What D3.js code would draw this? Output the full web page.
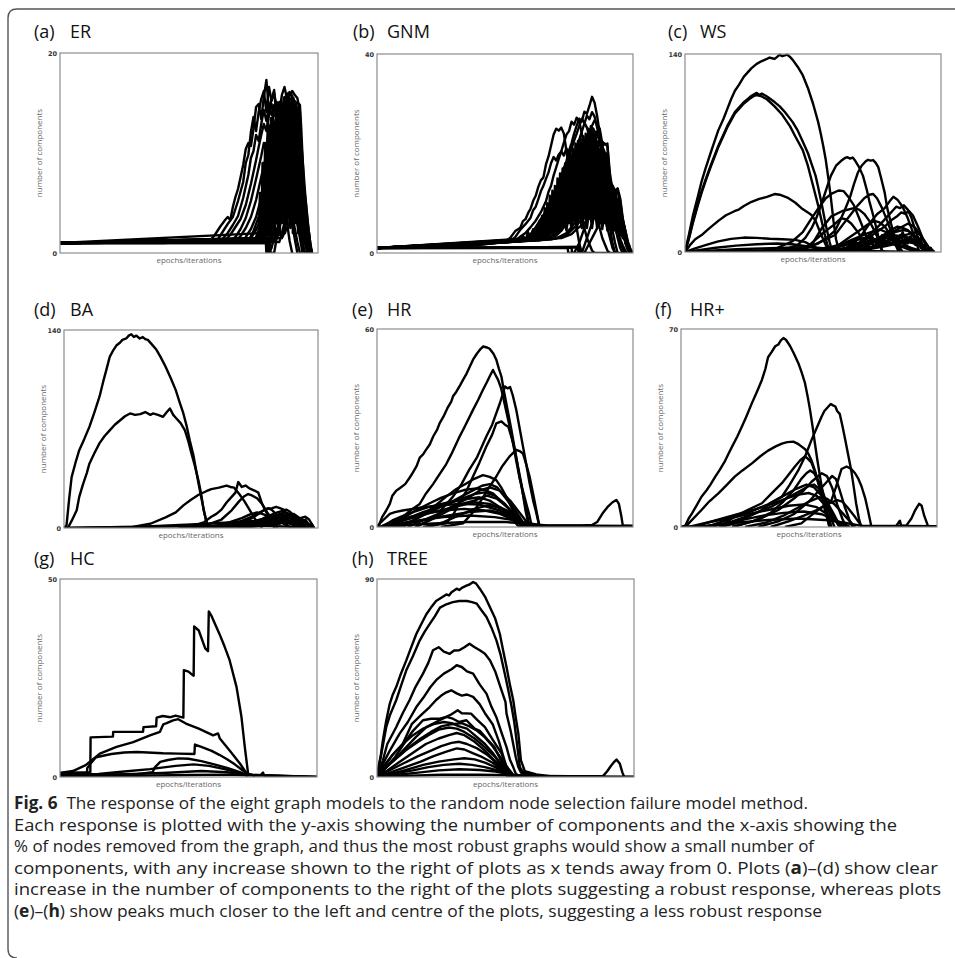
<!DOCTYPE html>
<html>
<head>
<meta charset="utf-8">
<script src="https://cdn.jsdelivr.net/npm/d3@7"></script>
<style>
  body { margin: 0; background: #fff; }
  svg { display: block; }
  .title { font-family: "Open Sans", sans-serif; font-size: 18px; fill: #111; }
  .axis-label { font-family: "Open Sans", sans-serif; font-size: 8px; fill: #666; }
  .tick text { font-family: "DejaVu Sans", sans-serif; font-size: 6.5px; font-weight: bold; fill: #333; }
  .caption { font-family: "Open Sans", sans-serif; font-size: 17px; fill: #222; }
</style>
</head>
<body>
<div id="chart"></div>
<script>
// panel labels and y-axis maxima
const panelLetters = ["(a)", "(b)", "(c)", "(d)", "(e)", "(f)", "(g)", "(h)"];
const panelNames = ["ER", "GNM", "WS", "BA", "HR", "HR+", "HC", "TREE"];
const yMaxValues = [20, 40, 140, 140, 60, 70, 50, 90];

// each curve: [% of x-range, number of components]
const erCurves = [
  [[0,1],[40,1],[58,1.2],[60,1.8],[62,2.6],[64,3.3],[65,3.6],[66,3.3],[67,4.6],[68,5.6],[69,6.4],[70,7.6],[71,8.8],[72,10.4],[73,11],[74,10.7],[75,12.4],[76,14.6],[77,14.9],[78,13.4],[79,15.6],[80,17.3],[81,14.2],[82,15.4],[83,16.3],[84,13.2],[85,11],[86,8.4],[87,5.5],[88,3],[89,1.2],[90,0]],
  [[0,1],[49,1.3],[61,1.3],[63,2.1],[65,2.9],[67,3.6],[69,5.2],[71,7.1],[72,9],[73,9.8],[74,12.1],[75,13.6],[76,12.2],[77,14.1],[78,15.4],[79,16.2],[80,14.1],[81,16.6],[82,15.2],[83,16],[84,14.5],[85,12.5],[87,8.4],[89,4.6],[91,1.4],[92,0]],
  [[0,1],[49,1.3],[63,1.4],[65,2],[67,2.8],[69,3.7],[71,5.5],[73,7.8],[74,9.5],[75,10.2],[76,11.8],[77,11.2],[78,12.9],[79,14.3],[80,13.2],[81,14.6],[82,13.8],[83,14.8],[84,13.4],[85,14.2],[86,11.6],[88,7.5],[90,3.8],[92,1.1],[93,0]],
  [[0,1],[40,1.2],[64,1.3],[66,1.8],[68,2.6],[70,3.4],[72,4.8],[74,6.9],[76,9.3],[77,10.6],[78,11.8],[79,12.9],[80,12.2],[81,13.8],[82,14.9],[83,13.7],[84,15.1],[85,14.4],[86,13],[87,13.8],[88,10.5],[90,6.6],[92,3],[94,0.6],[95,0]],
  [[0,1],[66,1.2],[68,1.6],[70,2.4],[72,3.5],[74,5.2],[76,7.4],[78,9.7],[79,11],[80,10.6],[81,12.4],[82,13.1],[83,12.6],[84,13.9],[85,15.1],[86,14.3],[87,15.6],[88,14.8],[89,12.6],[90,9.9],[91,7.2],[93,3.6],[95,0.9],[96,0]],
  [[0,1],[68,1.2],[70,1.7],[72,2.5],[74,3.6],[76,5.3],[78,7.6],[80,9.8],[81,11.2],[82,12.5],[83,11.7],[84,13.1],[85,14],[86,15.8],[87,16.6],[88,15.4],[89,16.1],[90,15.7],[91,12.8],[92,9.4],[93,6.1],[94,4.2],[95,2.4],[96.5,0.8],[97.5,0]],
  [[0,1],[70,1.1],[72,1.6],[74,2.4],[76,3.6],[78,5.5],[80,7.8],[82,10.1],[83,11.4],[84,12.3],[85,11.6],[86,13.4],[87,14.6],[88,15.9],[89,15.2],[90,15.6],[91,15.1],[92,14.2],[93,8.5],[94,5.1],[95,3.1],[96,1.8],[97,0.5],[97.5,0]],
  [[0,1],[72,1.1],[74,1.5],[76,2.3],[78,3.5],[80,5.1],[82,7.2],[84,9.6],[85,10.8],[86,11.9],[87,13],[88,12.2],[89,14.5],[90,13.9],[91,15.2],[92,14.4],[93,12],[94,6.5],[95,3.6],[96,1.6],[97,0.4],[97.6,0]],
  [[0,1],[74,1.1],[76,1.6],[78,2.5],[80,3.9],[82,5.6],[84,7.8],[86,9.5],[87,10.9],[88,11.6],[89,12.8],[90,12.1],[91,13.3],[92,12.6],[93,10.5],[94,7.1],[95,4],[96,2.2],[97,0.6],[97.6,0]],
  [[0,1],[75,1.1],[77,1.7],[79,2.8],[81,4.4],[83,6.3],[85,8.2],[87,9.4],[89,10.2],[90,11.5],[91,10.6],[92,11.2],[93,9.2],[94,6.2],[95,3.7],[96,1.8],[97,0.5],[97.7,0]],
  [[0,1],[77,1.1],[79,1.9],[81,3.1],[83,4.7],[85,6.6],[87,7.7],[89,8.6],[91,9.1],[92,8.4],[93,7.2],[94,5],[95,3.2],[96,1.5],[97.4,0]],
  [[0,1],[79.8,1],[80,0],[81,0],[82,3],[83,6],[84,8.5],[85,10.2],[86,12.5],[87,11],[88,12.8],[89,13.5],[90,14.2],[91,13.4],[92,14],[93,13.1],[94,8],[95,4.4],[96,2],[97,0.5],[97.5,0]],
  [[0,1],[78,1.2],[80,2.2],[82,4.2],[84,6.9],[85,8.9],[86,10.4],[87,12.1],[88,13.6],[89,14.1],[90,15.3],[91,14.6],[92,15.1],[93,14.8],[93.5,12.5],[94.5,6.8],[95.5,4.5],[96.5,2],[97.5,0]],
  [[0,1],[79,1.2],[81,2.6],[83,5],[84,7.5],[85,9.4],[86,8.8],[87,10.3],[88,9.6],[89,11],[90,9.8],[91,10.8],[92,9.5],[93,8],[94,5.5],[95,3],[96,1.2],[97,0]],
  [[0,1],[81,1.3],[83,2.5],[85,4],[87,5.6],[89,6.8],[91,7.5],[92,6.6],[93,5.8],[94,4.2],[95,2.6],[96,1.2],[97,0]],
  [[0,1],[76,1.5],[78,3],[79,5],[80,7.5],[81,9.2],[82,10],[83,9],[84,10.8],[85,12.2],[86,11.3],[87,12.6],[88,11.5],[89,10],[90,8.2],[91,5.5],[92,3],[93,1.5],[94,0]],
  [[0,1],[77,1.2],[78,2],[79,3.5],[80,5.5],[81,7],[82,8.5],[83,10.5],[84,12],[85,13.5],[86,14.8],[87,14.2],[88,15.3],[89,14.7],[90,14],[91,12.4],[92,10],[93,7],[94,3.6],[95,1.5],[96,0]],
  [[0,1],[78,1.3],[80,3],[81,4.6],[82,6.4],[83,8.2],[84,9.9],[85,11.6],[86,13],[87,14.1],[88,14.9],[89,15.7],[90,16.2],[91,15.8],[92,15.5],[93,14],[93.6,9],[94.5,5],[95.5,2.6],[96.8,0.5],[97.5,0]],
  [[0,1],[80,1.2],[81,2.2],[82,3.8],[83,5.6],[84,7.4],[85,9],[86,10.5],[87,11.9],[88,12.8],[89,13.9],[90,14.6],[91,14.1],[92,13.6],[93,12.5],[94,9.5],[95,6],[96,3],[97,1],[97.7,0]],
  [[0,1],[82,1.2],[83,2.4],[84,3.9],[85,5.4],[86,6.8],[87,8.3],[88,9.6],[89,10.4],[90,11.2],[91,12],[92,11.5],[93,10.8],[94,8.2],[95,5.1],[96,2.5],[97,0.8],[97.6,0]],
  [[0,1],[83,1.2],[84,2.1],[85,3.3],[86,4.6],[87,5.8],[88,7],[89,8.2],[90,9],[91,9.6],[92,9.3],[93,8.5],[94,6.5],[95,4.3],[96,2.2],[97,0.6],[97.5,0]],
  [[0,1],[85,1.1],[86,2],[87,3],[88,4.1],[89,5],[90,5.8],[91,6.4],[92,6.6],[93,6.2],[94,5],[95,3.5],[96,1.8],[97,0.4],[97.5,0]],
  [[0,1],[80.5,1],[80.7,0],[82,0.5],[83,1.5],[85,3],[87,4.5],[89,5.5],[91,5],[93,4],[95,2.5],[96.5,0.8],[97.5,0]],
  [[0,1],[81.5,1.2],[81.6,0],[83,0],[84,1.5],[86,3.5],[88,6],[90,8],[91,9],[92,8.6],[93,7.5],[94,5.5],[95.5,2.5],[97,0]],
  [[0,1],[84,1.5],[85,2],[86,1.5],[88,2.5],[90,3.5],[92,3.2],[94,2.5],[96,1.2],[97,0]],
  [[0,1],[73,1.2],[75,2.2],[77,3.6],[79,5.5],[80,7],[81,8.5],[82,10],[83,11.5],[84,12.5],[85,13.8],[86,14.5],[87,15],[88,14.3],[89,13],[90,11],[91,8.5],[92,5.5],[93,3],[94,1],[95,0]],
  [[0,1],[86,1.5],[87.5,3],[89,4.5],[90,6.5],[91,8],[92,9.5],[93,9],[93.8,7],[94.5,4.5],[95.5,2.2],[96.5,0.6],[97,0]],
  [[0,1],[77,1.2],[77.5,6],[78,2],[78.5,9],[79,3],[79.5,11],[80,4],[80.5,13],[81,3],[81.5,12],[82,5],[82.5,14],[83,4],[83.5,13],[84,6],[84.5,14.5],[85,5],[85.5,15],[86,4],[86.5,14],[87,6],[87.5,15.5],[88,5],[88.5,16],[89,7],[89.5,15],[90,4],[90.5,15.5],[91,6],[91.5,14.5],[92,5],[92.5,14],[93,3],[93.5,10],[94,2],[94.5,5],[95,1],[95.5,3.5],[96,0.5],[96.5,2],[97,0]],
  [[0,1],[78.25,1.5],[78.75,8],[79.25,1.5],[79.75,10],[80.25,2],[80.75,12],[81.25,1.5],[81.75,13.5],[82.25,2.5],[82.75,12.5],[83.25,2],[83.75,14],[84.25,3],[84.75,13],[85.25,2],[85.75,14.5],[86.25,3],[86.75,15.5],[87.25,2],[87.75,14],[88.25,3],[88.75,15.5],[89.25,2.5],[89.75,14.5],[90.25,2],[90.75,15],[91.25,3],[91.75,14],[92.25,2],[92.75,13],[93.25,1.5],[93.75,8],[94.25,1],[94.75,4.5],[95.25,0.5],[95.75,2.5],[96.5,0]],
  [[0,1],[79,2],[79.5,7],[80,5],[80.5,9],[81,6],[81.5,10],[82,7],[82.5,11],[83,8],[83.5,12],[84,8],[84.5,11],[85,9],[85.5,13],[86,8],[86.5,12],[87,9],[87.5,13],[88,8],[88.5,12],[89,9],[89.5,13],[90,8],[90.5,12],[91,9],[91.5,12.5],[92,8],[92.5,11],[93,6],[93.5,7],[94,3],[95,1.5],[96,0]]
];

const gnmCurves = [
  [[0,1],[22,1.2],[39,1.6],[46,2],[50,2.3],[52,3],[54,4.4],[56,5.1],[57,6.4],[58,6.8],[59,8],[60,8.9],[61,10.5],[62,11.5],[63,13.3],[64,14.6],[65,15.2],[66,17.8],[67,19.4],[68,21.6],[69,23.8],[70,25],[71,24.6],[72,25.2],[73,24],[74,20.5],[75,17],[76,13],[77,9],[78,5],[79,2],[80,0]],
  [[0,1],[39,1.6],[48,2.1],[52,2.4],[54,3.2],[56,4.7],[58,5.8],[60,7.1],[61,8.6],[62,9.3],[63,10.8],[64,12.4],[65,13.5],[66,14.9],[67,16.2],[68,18.1],[69,19.3],[70,18.6],[71,19.8],[72,20.4],[73,19.6],[74,21],[75,20],[76,17],[78,12],[80,7],[82,3],[84,0.5],[85,0]],
  [[0,1],[46,2],[54,2.5],[56,3.3],[58,4],[60,5.2],[62,6.5],[64,8.2],[66,10.4],[67,12.3],[68,13.5],[69,15.6],[70,17.2],[71,18.9],[72,20.5],[73,22.2],[74,23.8],[75,24.5],[76,26.4],[77,25.8],[78,27.2],[79,26.5],[80,24],[82,18],[84,12],[86,7],[88,3],[90,0.5],[91,0]],
  [[0,1],[50,2.1],[58,2.6],[60,3.5],[62,4.6],[64,5.8],[66,7.4],[68,9.6],[70,12.1],[71,13.6],[72,15.2],[73,17.1],[74,18.4],[75,20.6],[76,22.1],[77,24],[78,25.6],[79,27],[80,26.4],[81,28.4],[82,28],[83,29.6],[84,31.4],[85,30.2],[86,27.5],[87,24],[88,19],[89,14],[90,9],[91,5],[92,2],[93,0]],
  [[0,1],[52,2.2],[60,2.8],[62,3.6],[64,4.5],[66,5.8],[68,7.3],[70,9.2],[72,11.6],[73,13.1],[74,14.4],[75,16.2],[76,17.8],[77,19.5],[78,21.3],[79,22.8],[80,24.4],[81,26],[82,27.6],[83,26.9],[84,28.3],[85,27.4],[86,25.2],[87,22.5],[88,20.8],[89,16],[90,12],[91,8],[92,4.5],[93,2],[94,0]],
  [[0,1],[54,2.3],[62,3],[64,3.8],[66,4.9],[68,6.3],[70,8],[72,10],[74,12.5],[75,13.6],[76,15.2],[77,16.6],[78,18.2],[79,19.6],[80,21],[81,22.4],[82,23.5],[83,24.6],[84,25.2],[85,24.5],[86,23.8],[87,22.4],[88,21.6],[89,22],[90,21.5],[91,16],[92,12.5],[93,8],[94,4.5],[95,2.5],[96,1],[97,0]],
  [[0,1],[56,2.4],[64,3.1],[66,3.9],[68,5],[70,6.4],[72,8.2],[74,10.1],[76,12.6],[78,15.2],[80,17.6],[81,18.9],[82,20.2],[83,21],[84,22],[85,21.4],[86,22.2],[87,21.6],[88,22.4],[89,21.8],[90,22],[91,14],[92,13.6],[93,12.5],[94,13],[95,11],[96,7],[97,4],[98,1.5],[99,0.3],[100,0]],
  [[0,1],[58,2.4],[66,3.2],[68,4],[70,5.2],[72,6.6],[74,8.4],[76,10.4],[78,12.6],[80,14.8],[82,16.6],[84,18.4],[85,19.2],[86,18.5],[87,19.6],[88,18.8],[89,17.5],[90,15.8],[91,13.6],[92,12.8],[93,12],[94,12.4],[95,10.5],[96,6.5],[97,4.5],[98,2],[99,0.5],[100,0]],
  [[0,1],[60,2.5],[68,3.4],[70,4.3],[72,5.5],[74,7],[76,8.7],[78,10.4],[80,12.2],[82,13.8],[84,15.1],[86,16],[87,15.4],[88,16.2],[89,15],[90,13.4],[91,12.1],[92,10.6],[93,9.6],[94,7.5],[95,5.5],[96,4.5],[97,3],[98,1.5],[99,0]],
  [[0,1],[64,2.6],[70,3.5],[72,4.5],[74,5.8],[76,7.2],[78,8.6],[80,10],[82,11.4],[84,12.4],[86,13.2],[88,13.6],[89,13],[90,12],[91,10.6],[92,9],[93,7.2],[94,5.4],[95,4.8],[96,4],[97,2.4],[98,1],[99,0]],
  [[0,1],[68,2.7],[74,3.6],[76,4.6],[78,5.6],[80,6.8],[82,8],[84,9.2],[86,10],[88,10.6],[90,10.2],[92,8.6],[94,6],[96,3.5],[98,1],[99,0]],
  [[0,1],[74.5,1],[74.7,0],[100,0]],
  [[0,1],[76,1.1],[76.2,0],[77,0],[79,2],[81,5],[83,8],[85,11],[87,13],[89,12],[91,9],[93,5],[95,2],[97,0]],
  [[0,1],[78.5,1.2],[78.7,0],[80,0],[82,3],[84,6],[86,9],[88,11],[90,10.5],[92,7.5],[94,4],[96,1.5],[97.5,0]],
  [[0,1],[56,2.5],[60,3.2],[62,4],[64,5],[66,6.2],[68,7.5],[70,9],[72,10.8],[74,12.5],[76,14.2],[78,16],[80,17.5],[82,19],[84,20.2],[86,21],[87,20.5],[88,21.3],[89,20.2],[90,18.5],[91,14.5],[92,12],[93,10.5],[94,9],[95,7.5],[96,5.5],[97,3.5],[98,1.5],[99,0]],
  [[0,1],[62,2.7],[66,3.5],[68,4.6],[70,6],[72,7.5],[74,9.3],[76,11.2],[78,13],[80,14.6],[82,16],[83,17.3],[84,18.1],[85,18.8],[86,18.2],[87,17.5],[88,16.5],[89,15.2],[90,13.6],[91,12.3],[92,11],[93,10],[94,8.2],[95,6.5],[96,5],[97,3],[98,1.2],[99,0]],
  [[0,1],[66,2.8],[70,3.8],[72,5],[74,6.4],[76,8],[78,9.6],[80,11.4],[82,12.8],[84,14.2],[86,15.4],[88,15.8],[90,15.1],[91,13.7],[92,12.2],[93,11],[94,10.8],[95,9],[96,6],[97,3.5],[98,1.5],[99,0]],
  [[0,1],[70,2.9],[74,4],[76,5.2],[78,6.6],[80,8],[82,9.4],[84,10.5],[86,11.5],[88,12.2],[90,12.6],[92,11.5],[94,9],[95,7],[96,5],[97,3],[98,1.2],[99,0]],
  [[0,1],[72,3],[76,3.8],[78,4.8],[80,5.6],[82,6.5],[84,7.4],[86,8.2],[88,8.6],[90,8.9],[92,8.4],[94,6.8],[96,4.5],[97.5,2.4],[99,0.5],[99.5,0]],
  [[0,1],[57,2.5],[60,3.8],[62,5.2],[64,6.8],[66,8.4],[68,10.5],[70,12.4],[71,13.8],[72,15],[73,16.7],[74,17.9],[75,19.2],[76,21],[77,22.6],[78,24],[79,25.5],[80,27],[81,26.2],[82,25.2],[83,23.4],[84,21],[85,18.4],[86,15.6],[87,13],[88,10.2],[89,7.4],[90,5],[91,3],[92,1],[93,0]],
  [[0,1],[60,3],[62,3.9],[64,5],[66,6.2],[68,7.7],[70,9.5],[72,11.7],[74,13.9],[76,16],[78,18.3],[80,20.3],[81,21.6],[82,23.2],[83,24.4],[84,25.6],[85,26.7],[86,25.8],[87,25],[88,22],[89,18],[90,14.5],[91,11],[92,8],[93,5.5],[94,3],[95,1],[96,0]],
  [[0,1],[79,1.2],[79.2,0],[81,0],[83,2],[85,4],[87,6],[89,8],[91,9],[93,8],[95,6],[97,3],[99,0]],
  [[0,1],[64,2.6],[66,3.2],[68,4.2],[70,5.5],[72,7],[74,8.5],[76,10],[78,11.5],[80,12.6],[82,13.4],[84,14],[86,14.5],[88,14.2],[90,13],[92,11.5],[94,10],[95,8.5],[96,6.8],[97,4.5],[98,2.3],[99,0.8],[100,0]],
  [[0,1],[58,2.8],[61,3.5],[63,4.6],[65,5.7],[67,7],[69,8.6],[71,10.4],[73,12.2],[75,14.3],[77,16.3],[79,18.4],[81,20.4],[83,22.4],[84,22.9],[85,23.8],[86,24.4],[87,23.1],[88,21.5],[89,19.6],[90,17],[91,15],[92,13],[93,11.5],[94,10],[95,8.2],[96,6],[97,3.6],[98,1.6],[99,0.4],[100,0]],
  [[0,1],[62,2.5],[62.5,5],[63,2.5],[63.5,6.5],[64,3],[64.5,7.5],[65,3],[65.5,9],[66,3.5],[66.5,10],[67,3.5],[67.5,11.5],[68,4],[68.5,12.5],[69,4],[69.5,13.5],[70,4.5],[70.5,15],[71,5],[71.5,16],[72,5],[72.5,17],[73,5.5],[73.5,18],[74,5.5],[74.5,19],[75,6],[75.5,20],[76,6],[76.5,21],[77,6.5],[77.5,22],[78,6.5],[78.5,22.5],[79,7],[79.5,23],[80,7],[80.5,23.5],[81,7],[81.5,24],[82,7],[82.5,25],[83,7],[83.5,25.5],[84,7],[84.5,25],[85,7],[85.5,24],[86,6.5],[86.5,22.5],[87,6.5],[87.5,21],[88,6],[88.5,20.5],[89,6],[89.5,20],[90,5.5],[90.5,17],[91,5],[91.5,13],[92,5],[92.5,12],[93,4.5],[93.5,12],[94,4],[94.5,11],[95,3.5],[95.5,8],[96,3],[96.5,5.5],[97,2],[97.5,3],[98,1],[98.5,1.5],[99,0]],
  [[0,1],[66,3],[66.5,6],[67,4.5],[67.5,8],[68,5.5],[68.5,9.5],[69,6.5],[69.5,11],[70,7.5],[70.5,12],[71,8.5],[71.5,13.5],[72,9],[72.5,14.5],[73,10],[73.5,15.5],[74,10.5],[74.5,16.5],[75,11],[75.5,17],[76,11.5],[76.5,18],[77,12],[77.5,19],[78,12],[78.5,19.5],[79,12.5],[79.5,20.5],[80,12.5],[80.5,21],[81,12.5],[81.5,21.5],[82,12.5],[82.5,22],[83,12],[83.5,22],[84,12],[84.5,21.5],[85,11.5],[85.5,21],[86,11],[86.5,20],[87,10.5],[87.5,19],[88,10],[88.5,18],[89,9.5],[89.5,17],[90,9],[90.5,14],[91,8],[91.5,11.5],[92,7.5],[92.5,10.5],[93,7],[93.5,10],[94,6.5],[94.5,9],[95,5],[95.5,6.5],[96,4],[96.5,4.5],[97,2],[98,0.5],[99,0]],
  [[0,1],[56,2.3],[57,3.5],[58,2.5],[59,4.2],[60,3],[61,4.8],[62,3.2],[63,5.5],[64,3.5],[65,6],[66,3.8],[67,6.5],[68,4],[69,7],[70,4.2],[71,7.5],[72,4.5],[73,8],[74,4.5],[75,8.2],[76,4.8],[77,8.5],[78,4.8],[79,8.6],[80,5],[81,8.8],[82,5],[83,9],[84,5],[85,9],[86,5],[87,9],[88,4.8],[89,8.5],[90,4.5],[91,8],[92,4.2],[93,7.5],[94,4],[95,6],[96,3],[97,3.5],[98,1],[99,0]]
];

const wsCurves = [
  [[0,0],[1.5,12],[3,25],[5,39],[6.5,50],[8,59],[10,70],[11.5,78],[13,86],[15,94],[16.5,101],[18,108],[19.5,114],[21,118],[23,124],[24.5,127],[26,130],[28,133],[30,135],[32,136.5],[33,137.5],[34,137],[35,136.5],[36,138],[37,139.5],[38,138.5],[39,139],[40,139.5],[41,138],[42,136],[44,131],[46,125],[48,116],[50,105],[52,92],[53,84],[54,75],[55,65],[56,52],[57,38],[58,22],[59,9],[60,2],[61,0]],
  [[0,0],[1.5,10],[3,21],[5,34],[6.5,43],[8,51],[10,61],[13,75],[16.5,89],[19.5,99],[21,102],[23,106],[25,109],[26,110.5],[27,111.5],[28,112.5],[29,111],[30,112],[32,110],[35,106],[37,103],[39,99],[42,92],[44,86],[45.5,80],[48,70],[49.5,62],[51,54],[52,46],[53.5,33],[55,19],[56.5,7],[57.5,0]],
  [[0,0],[1.5,9],[3,20],[5,33],[6.5,42],[8,50],[10,60],[13,74],[16.5,88],[19.5,98],[23,105],[25,108],[27,110.5],[28,111],[30,110],[32,108],[35,103],[38,97],[41,89],[43,82],[46,72],[48,61],[50,47],[52,33],[53,25],[54.5,13],[55.5,6],[56.5,0]],
  [[0,0],[2,5],[4,9],[6.5,12],[9,16],[11,19],[13,22],[16,26],[19.5,29],[21,30],[23,32.5],[26,35.5],[29,37.5],[32,39],[35,41],[37,40.5],[40,38.5],[43,35],[45.5,31],[48,28],[49.5,26],[51,22],[53,13],[55,5],[56,1],[57,0]],
  [[0,0],[4,2.5],[8,4.8],[13,7.5],[18,9.3],[23,10.2],[28,10],[33,9.4],[38,9],[43,8.6],[47,7],[50,4],[53,1.5],[55,0]],
  [[0,0],[6,1.5],[12,3],[20,4.5],[28,5.5],[36,6],[42,5.5],[48,4],[53,2],[58,0]],
  [[0,0],[10,1],[20,2],[30,2.5],[40,3],[48,3.5],[55,2.5],[60,1],[64,0]],
  [[30,0],[38,1],[44,5],[47,10],[49.5,17],[51.5,25],[53.5,35],[55.5,46],[57,54],[59,61],[61,64.5],[62.5,66.5],[63.5,67],[64.5,66],[65.5,66.8],[66.5,64.5],[68,60],[69.5,54],[71,44],[72,36],[73.5,26],[75,15],[76,7],[77,0]],
  [[35,0],[45,2],[52,6],[56,11],[58.6,15],[60.5,22],[62.5,30],[64.5,39],[66,48],[67.5,56],[69,61],[70.5,64],[71.5,65.2],[72.5,64.6],[73.5,65],[74.5,63],[75.5,60],[76.5,53],[78,42],[79,31],[80.5,20],[82,10],[83,4],[84,0]],
  [[25,0],[35,2],[42,7.6],[46,14],[49.5,24],[52.5,32],[55,38],[57.5,41.5],[60,43.5],[62,43],[64,38.5],[66,33],[68,24],[70,15],[71.5,7],[72,3],[73,0]],
  [[40,0],[48,3],[54,8],[58.6,12],[61.5,19],[64.5,26],[67.5,33],[70,38],[72,40.5],[73.5,41],[75,38],[77,31],[79,22],[81,12],[82.5,4],[83.5,0]],
  [[50,0],[58,2],[64,3],[66,6],[69,12],[72,20],[75,26.7],[78,31],[80,36],[81.4,39],[83,37],[85,32],[87,24],[89,14],[90.5,6],[91.5,0]],
  [[35,0],[44,2],[49.5,5],[53.5,17],[57,25],[61.5,29],[66,31],[68,30],[70,27],[72,22],[74,15],[76,7],[77,1],[78,0]],
  [[30,0],[40,1.5],[48,4],[54.7,14.5],[58,19],[61,24],[63,23],[65,20],[68,13],[70,6],[72,1],[73,0]],
  [[55,0],[62,2],[68,6],[72,12],[76,19],[79,25],[81,29],[82.5,32],[84,31],[85.5,33],[87,30],[88.5,24],[90,15],[92,6],[93,0]],
  [[55,0],[65,3],[70,8],[74,13],[78,18],[81,23],[83,25.5],[84.5,28],[86,27],[87.5,29],[89,26],[91,18],[93,9],[94.5,3],[95.5,0]],
  [[60,0],[68,3],[73,6],[77,10],[80,13],[83,16],[85,18],[87,20],[88.5,19],[90,17],[92,12],[94,6],[95.5,2],[96,0]],
  [[50,0],[58,3],[63,7],[67,10],[71,13],[74,15],[76,16],[78,14.5],[80,13],[83,9],[86,5],[89,2],[91,0]],
  [[62,0],[70,2],[75,5],[80,8],[84,11],[87,12.5],[89,13.5],[90.5,14],[92,12],[93.5,8],[95,4],[96,1],[97,0]],
  [[55,0],[65,2],[70,5],[74,8],[77,10],[80,12],[83,11.5],[86,10],[89,7],[92,4],[94,1.5],[95,0]],
  [[45,0],[52,2],[58,4],[63,6.5],[67,8.5],[70,10],[73,9.5],[77,8],[81,6],[85,3.5],[88,1.5],[90,0]],
  [[60,0],[70,2],[76,4],[80,6],[83,7.5],[86,8.5],[89,8],[92,5.5],[94.5,2.5],[96,0]],
  [[58,0],[66,2],[71,5],[75,9],[78,12.5],[81,16],[83,18],[85,17],[87,15.5],[89,12],[91,7],[93,3],[94,0]],
  [[45,0],[55,2],[60,5],[64,10],[68,15],[71,19],[74,22],[76,21],[78,18],[80,13],[82,8],[84,3],[85,0]],
  [[0,0],[15,0.5],[30,1],[45,1.5],[60,1],[75,0.5],[90,0]],
  [[50,0],[60,1.5],[66,4],[70,6],[74,8],[78,9.5],[82,10.5],[85,11],[88,10],[91,7],[94,3],[96,0]],
  [[60,0],[68,1.5],[74,3.5],[79,5.5],[83,7],[87,8],[90,7.5],[93,5],[95.5,2],[97,0]],
  [[55,0],[62,2],[67,4.5],[71,7],[75,9.5],[79,12],[82,14],[85,15.5],[87,15],[89,13],[91,9],[93,4.5],[95,1],[96,0]],
  [[65,0],[72,2],[78,4],[83,6],[87,7],[90,6],[92,4.5],[94.5,2],[96,0]],
  [[40,0],[50,1.5],[58,3.5],[64,5.5],[70,7],[75,7.5],[80,6.5],[85,4.5],[90,2],[93,0]],
  [[55,0],[57,3],[59,1],[61,5],[63,2],[65,7],[67,3],[69,9],[71,4],[73,11],[75,5],[77,12],[79,5],[81,13],[83,6],[85,14],[87,6],[89,13],[91,5],[92,10],[93,3],[94,6],[95,1.5],[96,3],[97,0]],
  [[60,0],[62,2],[64,4],[66,2.5],[68,6],[70,3],[72,8],[74,4],[76,10],[78,4.5],[80,11],[82,5],[84,12],[86,5.5],[88,11],[90,5],[91,9],[92,3],[93.5,5],[95,1],[96.5,1.5],[97.5,0]]
];

const baCurves = [
  [[0,0],[1,2],[2,20],[3,36],[4.5,46],[6,55],[8,63],[10,71.5],[12,82],[14,93],[15.5,104],[16.7,112],[18,121],[19.5,126],[20.6,129],[22,131],[23,133],[24.5,134],[25.5,136],[26.5,137],[27.5,135],[28.5,136],[29.8,134],[31,135],[32,133.5],[33,133],[34.5,130],[36.4,126],[38,121],[40,114],[42,106],[44,97.5],[45.5,89],[47,81],[48.3,72],[49.5,62],[51,51],[52,41],[53,31],[54,22],[55,13],[56,5],[56.8,0]],
  [[0,0],[1.5,0],[3,5],[5,12.5],[6,22],[7.5,31],[9,39],[10,45.5],[12,53],[14,60],[16,65],[18,69],[20,73],[22,76],[24,79],[26,81],[28,80],[30,80.5],[32,82],[34,80],[35,81],[37,80],[39,78.6],[40.5,82],[41.7,84.5],[43,80],[44,78],[46,74],[47.6,69],[49,61],[50,54],[51.5,44],[53,33],[54,24],[55,12.5],[56,5],[57,0]],
  [[15,0],[27,0.7],[34,3],[40,7.5],[44,11],[47,16],[50,20],[53,23.5],[56,26],[58,27.5],[61,28.5],[64,30],[65.5,29],[67,28.5],[69,24],[71,19],[73,13],[75,7],[77,2],[78,0]],
  [[45,0],[50,1],[55,4],[58,8],[60,10],[62,13],[64,18],[66,22],[67.5,25],[68.6,32.5],[70,29],[71.5,30],[73,28],[75,26.5],[76.5,25],[78,17],[80,10],[81,5],[82,2],[83,0]],
  [[50,0],[56,2],[62,6],[66,12.5],[69,19],[71,22.5],[72.5,24],[74,23],[76,21],[78,17],[80,11],[82,6],[83.5,1.5],[84,0]],
  [[55,0],[63,2],[70,5],[74,8],[77,11],[80,13.5],[82,14],[83.5,15],[85,14],[86.5,13],[88,9],[90,5],[92,2],[94,0]],
  [[58,0],[65,1.5],[70,4],[74,7],[77,10.5],[79,13],[80.5,14],[82,12.5],[84,9],[86,6],[89,3],[92,0.5],[93,0]],
  [[60,0],[68,1.5],[74,4],[78,6.5],[81,9],[84,11],[86,12],[87.5,13],[89,11.5],[91,8],[93,4.5],[95,1.5],[96,0]],
  [[62,0],[70,1],[76,3],[80,5],[84,7],[87,8.5],[89,9.5],[90.5,10],[92,8],[94,5],[96,2],[97,0]],
  [[65,0],[75,1],[82,2.5],[87,4],[90,5.5],[93,7],[95,8],[96.5,6],[97.5,3],[98.5,0]],
  [[52,0],[60,2],[65,4],[70,7],[73,9.5],[76,11],[78,10],[81,8],[84,5],[87,2.5],[90,0]],
  [[60,0],[70,1.5],[75,3],[80,5],[84,7],[86,6.5],[89,5],[92,3],[95,1],[97,0]],
  [[0,0],[20,0.5],[40,1],[60,1.5],[80,1.5],[95,0.5],[98,0]],
  [[0,0],[30,1],[50,2.5],[65,4],[75,5],[85,4.5],[92,2.5],[97,0]],
  [[66,0],[74,2],[79,4],[83,6.5],[86,9],[88,8],[90,6.5],[93,4],[96,1.5],[97.5,0]],
  [[60,0],[70,2],[76,4.5],[80,6.5],[83,8.5],[85,10],[87,11],[89,10],[91,7.5],[93,5],[95,2.5],[97,0]],
  [[55,0],[65,1.5],[72,3.5],[78,6],[82,8],[85,9.5],[88,9],[91,7],[94,4],[96,1.5],[97,0]],
  [[65,0],[74,1.5],[80,3.5],[85,5.5],[89,7],[92,7.5],[94,6],[96,3],[98,0]],
  [[65,0],[67,2],[69,1],[71,3.5],[73,1.5],[75,5],[77,2],[79,6.5],[81,2.5],[83,8],[85,3],[87,9],[89,3],[91,8],[93,2.5],[95,6],[96.5,2],[97.5,3],[98.5,0]],
  [[70,0],[72,1.5],[74,3],[76,1.5],[78,4.5],[80,2],[82,6],[84,2.5],[86,7.5],[88,3],[90,7],[92,2.5],[94,5],[96,1],[97,1.5],[98,0]]
];

const hrCurves = [
  [[0,0],[1,1],[2,3],[3.6,5],[5,7],[6,9.5],[7.5,11],[9,11.8],[11,13],[12.8,15],[14,16.5],[15.5,18.5],[16.7,21],[18,22],[19,23.2],[20.6,25],[22,27.5],[23.5,29.5],[24.5,31.5],[26,33.5],[27.5,36],[29,38],[29.7,39.6],[31,41],[32.5,43],[33.6,44.6],[35,46.5],[36.5,49],[37.5,50.7],[39,52.5],[40.5,54],[41.5,54.7],[43,54.4],[44,54],[45.5,52.5],[46.6,50.7],[47.6,48],[48.6,45.6],[49.5,41.5],[50.5,37.5],[51.5,33.5],[52.5,29.4],[53.5,25],[54.4,21],[55.4,17],[56.4,13],[57.2,9],[58,5],[59,1.5],[59.6,0]],
  [[5,0],[7.5,1],[10,3],[13,5],[16.7,7],[19,10],[21.9,13],[24,15.5],[27,19],[29,22],[32,27],[34,30],[37.5,35.5],[39.5,38.5],[41.4,41.6],[43,44],[44,45.6],[45.3,47.6],[46,46.5],[47.3,44.6],[48.5,42],[49.2,39.6],[50.5,35],[51.8,30.5],[53,26],[54.4,20],[55.8,14.5],[57,11],[58.5,6.5],[59.4,4],[60.5,0]],
  [[15,0],[19,1.5],[23,3.1],[26,6],[29.7,9.2],[33,13],[36,17.3],[39,21],[42.7,27.4],[45,31],[48,37.5],[49,40],[50,42.6],[51,42],[52,42.4],[53,40],[54.4,35.5],[55.7,30],[57,24.5],[58.3,19],[59.6,13.3],[61,8],[62,5],[63.5,0]],
  [[18,0],[27,1.1],[30,4],[32,7.2],[35,11],[37.5,15.3],[40,19.5],[42.7,24.4],[45,28],[46.6,31.4],[48.6,32],[50,31],[51.3,30.4],[52.6,27],[53.9,23.3],[55.7,15.2],[57,10],[58.3,5.2],[59.6,0]],
  [[25,0],[33.6,1.1],[37,4],[40,7.2],[43,11],[46.6,15.3],[49,18.5],[51.8,21.4],[54.4,23.4],[55.7,23],[57,22.3],[58.3,19],[59.6,15.3],[61,10],[62.2,5.2],[63.5,0]],
  [[10,0],[16.7,3.1],[22,6],[27,9.2],[31,11.5],[34.9,13.2],[38,14.6],[41.4,15.7],[44,15.2],[46.6,14.2],[48.5,12],[50.5,9.2],[52.5,6],[54.4,3.1],[57,0]],
  [[5,0],[10,2.6],[15,5],[20.6,7.2],[25,8.8],[29.7,10.2],[34,11.2],[38.8,11.7],[42,11.2],[45.3,10.2],[48.5,7.8],[51.8,5.2],[55.7,1.1],[57,0]],
  [[3,0],[10,2],[18,4.5],[26,6.5],[33,8.5],[38,10],[42,10.5],[46,9.5],[50,7],[54,3],[57,0]],
  [[2,0],[6,2],[12,4],[20,6],[28,7.5],[35,8.5],[40,9],[44,8],[48,6],[52,3],[55,0.5],[56,0]],
  [[4,0],[8,1.5],[15,3],[22,4.5],[30,6],[38,7.5],[44,7],[50,5],[55,2],[58,0]],
  [[1,0],[4,1],[10,2.5],[18,4],[26,5],[34,5.5],[42,5],[48,4],[54,2],[58,0.5],[60,0]],
  [[6,0],[12,1],[20,2.5],[28,3.5],[36,4.5],[44,5],[50,4],[56,2],[60,0]],
  [[2,0],[8,1],[16,2],[26,3],[36,3.5],[46,3],[54,2],[60,1],[64,0]],
  [[0,0],[10,0.5],[20,1],[35,1.5],[50,1.5],[60,1],[66,0.5],[100,0.3]],
  [[12,0],[18,2],[24,4],[30,6.5],[35,8.5],[40,11],[44,12],[48,11],[52,8],[56,4],[59,1],[60,0]],
  [[8,0],[14,2],[22,5],[30,8],[36,10.5],[41,12.5],[44,13],[47,12],[50,9],[54,5],[57,1.5],[58,0]],
  [[0,0],[1,1],[3,2.5],[5,4],[7,4.5],[10,5],[14,5.5],[18,6],[25,6.5],[32,7],[40,6.8],[48,5],[54,2],[58,0]],
  [[15,0],[22,2.5],[28,5],[33,7],[38,8],[43,9.5],[47,8.5],[51,6],[55,3],[58,0]],
  [[20,0],[26,1.5],[32,3.5],[38,5.5],[43,6.5],[48,6],[52,4.5],[56,2],[59,0]],
  [[60,0.5],[80,0.5],[84,0.6],[86,1.5],[88,4],[90,6],[92,7.5],[93.5,8.2],[94.5,7],[95.5,3],[96,0.5],[100,0.3]],
  [[55,0],[100,0]]
];

const hrPlusCurves = [
  [[0,0],[1.7,0.5],[3,3],[4.3,4.8],[6,7.5],[8,10.7],[10,13],[11.5,15],[13.4,17.8],[15,20],[17,23],[18.6,26],[20,28.5],[22,32],[23.8,35.5],[25.5,39],[27.7,43.8],[29.5,47.5],[31.6,52],[33,56],[34,60],[35.5,62],[36.8,63.9],[38,64.5],[39,66],[40,66.8],[41,66.2],[42.6,64],[44,61.5],[45.8,58],[47,55],[48.4,51],[49.5,46],[50.4,41.4],[51.4,35.5],[52.3,29.6],[53.3,23.5],[54.3,17.8],[55.2,13],[56,8.4],[57,4],[58,0]],
  [[15,0],[21,1.2],[26,3.5],[31.6,6],[35,8.5],[39.4,10.7],[42.5,15],[45.8,20],[48.5,25],[51,30.8],[53,35],[54.9,39],[56,41],[57.5,42.5],[58.5,43.5],[59.4,43],[60.3,42.6],[61,41],[62,40],[63,36],[63.9,32],[65.2,26],[66.5,20],[67.5,14],[68.4,8.4],[69.5,3],[70.4,0]],
  [[2,0],[3,1.3],[8,6],[11,9],[14.7,12],[18,15],[21,17.8],[24,20],[27.7,22.5],[31,25],[34,27],[37,28.5],[39.4,29.5],[41.5,30],[43.9,30.2],[45.5,29.5],[47,28.5],[48.5,27.5],[49.7,26],[51,23.5],[52.3,20],[53.6,16],[54.9,12],[56.2,7.5],[57.5,3.7],[58.8,0]],
  [[40.6,0],[47,1.3],[50,3.5],[53.5,6],[56,7.5],[58.8,9.5],[60.5,14],[62.7,20.5],[64.7,21.4],[66.5,20.5],[68,19],[69.3,17],[70.5,14.4],[72,10],[73,6],[74.4,0]],
  [[15,0],[21,3.7],[26,6],[31.6,8.4],[35.5,12],[39.4,15.5],[42,18.5],[44.5,21.4],[46.5,23.5],[48.4,25],[49.7,24],[51,22.7],[52.3,19.5],[53.6,15.5],[55,11],[56.2,6],[58,0]],
  [[20,0],[30,2.5],[38,6],[44,10],[48,13],[51,16],[53,17.5],[55,19],[57,18],[59,14],[61,8],[63,3],[64.5,0]],
  [[30,0],[38,2],[44,4.5],[50,9],[54,13],[57,16],[59,18],[60.5,17],[62,13],[64,7],[66,2],[67,0]],
  [[12,0],[20,2],[28,4.5],[36,7.5],[42,10.5],[47,13],[50,14.5],[52,15],[54,13.5],[57,9],[60,4],[62,0.5],[63,0]],
  [[5,0],[12,2],[20,4],[28,6],[35,8],[41,10],[46,11.5],[50,12],[53,11],[56,8],[59,4],[62,0]],
  [[3,0],[10,1.5],[18,3],[26,4.5],[34,6],[42,7.5],[48,8],[53,7],[58,4],[62,1],[64,0]],
  [[8,0],[16,1],[24,2.5],[32,4],[40,5],[48,5.5],[55,4.5],[60,2.5],[65,0.5],[66,0]],
  [[0,0],[10,0.5],[22,1.5],[34,2.5],[46,3],[56,2.5],[64,1.5],[70,0.5],[100,0.3]],
  [[25,0],[33,1.5],[40,4],[46,7],[50,9],[54,10.5],[57,10],[60,8],[63,5],[66,2],[68,0]],
  [[35,0],[42,2],[48,4],[53,6],[57,8],[61,9.5],[63,9],[65,7],[68,3.5],[70,1],[71,0]],
  [[20,0],[28,2],[35,5],[40,9],[44,13],[47,17],[49,19],[50.5,20],[52,19],[54.5,15],[57,8],[59,2],[60,0]],
  [[10,0],[18,2.5],[26,5],[34,8],[40,11],[45,13.5],[49,15],[52,14],[55,11],[58,6],[61,1.5],[62,0]],
  [[70,0.3],[84,0.3],[85.5,2.2],[86,0.5],[88,0.5],[90,3],[91.5,6],[93,8.2],[94,7.5],[95,4],[96.5,0.3],[100,0.3]]
];

const hcCurves = [
  [[0,1],[11.8,1.2],[11.9,10],[20.6,10.2],[20.7,11.4],[32.3,11.4],[32.5,12.6],[37.4,12.8],[37.6,15],[40,15.4],[43,15.1],[45,15.5],[48,15],[48.2,27],[50,26.6],[51.5,25.8],[52,25.6],[52.2,38],[54,37],[56.5,32.5],[57.6,31.8],[57.9,41.8],[59,40.6],[62,36.2],[64,33],[66,29.5],[68.7,22.7],[70.6,15.2],[71.9,7.6],[73.2,0.8],[75,0.5],[100,0]],
  [[0,1],[5,1.5],[10,3],[15.5,5.9],[22,7.6],[28.5,8.8],[35,10.5],[38.9,11.4],[40.2,13.3],[41.5,13.6],[44,14.3],[46,14.6],[49,13.5],[54,12.2],[59.6,10.5],[61.5,11],[62.2,9.7],[66,6.7],[70,3.4],[72.5,1],[74,0.3]],
  [[0,0.8],[10.5,0.8],[10.6,2.2],[12,3.5],[14,5],[20,5.8],[25,6.2],[30,6.3],[34,6.2],[40,6],[46,5.9],[52.3,5.8],[52.5,8.2],[55,7.6],[59,6.6],[62,5.6],[65,4.5],[68,3.2],[71,1.7],[73,0.8],[76,0.3]],
  [[0,0.6],[30,0.7],[36,1.2],[37,2.5],[39,3.8],[42,4.3],[46,4.7],[50,4.6],[55,4],[60,3.2],[65,2.3],[70,1.2],[73,0.5]],
  [[0,0.4],[15,0.8],[25,1.4],[35,2],[45,2.8],[52,3.2],[58,2.8],[64,2],[70,1],[73,0.3]],
  [[0,0.3],[20,0.6],[40,1],[55,1.5],[65,1.2],[72,0.6],[100,0]],
  [[0,0],[30,0.3],[50,0.5],[65,0.6],[74,0.4],[78,0.4],[79,1.1],[79.5,0.3],[100,0]]
];

const treeCurves = [
  [[0,0],[0.5,4],[1.5,10],[2.3,16.7],[3.5,25],[4.9,33],[6,37],[7.5,41],[9,46],[11.4,53],[13,58],[15.3,65],[17,69],[19.2,74],[21,77],[22,78.5],[23,80],[25,81.5],[27,83],[28,82.5],[29,84],[31,85.6],[32,85],[33,86],[34.8,87],[36,87.5],[37.4,88.6],[38.5,88],[40,85.6],[42,82],[44,77],[46,72],[47.8,65],[49,58],[50.4,50],[51.7,42],[53,35],[54,27],[55,19.7],[56,7.6],[57.5,2.7],[62,1.2],[68,0.3],[100,0]],
  [[0,0],[1.7,10.6],[3.6,22.7],[5,28],[7.5,35],[9.5,42],[11.4,48.5],[14,55],[16.6,62],[18.5,66],[20.6,69.7],[22.5,73],[24.5,77],[27,78.5],[29.5,79.5],[32,80],[35,80],[37,79.5],[38.8,78.8],[40.5,76],[42.6,72.7],[44.5,68],[46.5,62],[48,56],[49.7,47],[51,40],[52.4,31.8],[53.4,25],[54.3,16.7],[55,10],[55.6,4.5],[57,2],[62,0.8],[68,0]],
  [[0,0],[2.3,7.6],[4,15],[7.5,22.7],[10,29],[12.7,35],[15,41],[17.9,47],[20,52],[21.8,57.6],[24,59],[26,57],[28.3,56],[30,57.5],[32,57.6],[34,59],[36,60.6],[38,59],[40,57.6],[42,56],[44,53],[46,48],[48,41],[50,34],[50.4,28.8],[52,21],[53,15],[54,9],[55,4.5],[56,2],[60,0.5],[64,0]],
  [[0,0],[2.3,6],[5,12],[8.8,19.7],[12,25],[15.3,31.8],[18,36],[20.8,40.9],[23,44],[26,47],[29,49],[31,50.8],[33,50],[35,48],[37.4,47],[40,42],[42.6,37.9],[44.5,32],[46.5,27],[48.5,20],[50.4,13.6],[51.7,8],[53,4.5],[54,1.5],[56,0]],
  [[0,0],[2.3,4.5],[6,10],[10,15],[13.6,24.2],[17,28],[20.5,31.8],[23,35],[25,37],[27,38.5],[28.9,39.4],[31,38],[33,37],[35,37.5],[37.4,36.4],[40,33],[42,29],[45,24],[47.5,16],[49,10],[50.4,4.5],[52,1.5],[54,0]],
  [[0,0],[2.3,3],[6,7],[11.4,13.6],[15,18],[19.2,22.7],[23,25],[27,27.3],[29,28.5],[31.4,30.3],[33,29],[36.6,28.8],[39,26],[42,22.7],[45,17],[48.5,10.6],[50.4,3],[52,0.5]],
  [[0,0],[3.6,4.5],[7,9],[11.4,16.7],[14,21],[17.9,25.8],[21,26.5],[24.4,26.5],[27,27.3],[29.5,26.5],[32,25],[34.8,25.8],[38,22],[40,21],[43,17],[45.7,13.6],[48,8],[50,3],[52,0]],
  [[0,0],[3,5],[6,10],[10,15],[14,19],[18,22],[22,24],[26,25],[29,24.5],[32,23],[35,22],[38,19],[42,15],[45,11],[48,6],[50,2],[51.5,0]],
  [[0,0],[3,4],[7,8],[11,12],[16,16],[20,19],[24,21.5],[28,22.5],[31,22],[34,20.5],[38,17.5],[42,13.5],[46,9],[49,4.5],[51,1],[52,0]],
  [[0,0],[4,3],[9,7],[14,11],[19,15],[24,17.5],[28,19],[31,20],[34,19],[38,16],[42,12],[46,7],[49,3],[51,0]],
  [[0,0],[4,2.5],[10,6],[16,9.5],[21,12],[25,14],[29,15.5],[32,16],[35,15],[39,13],[43,10],[47,6],[50,2],[52,0]],
  [[0,0],[5,2],[11,4.5],[17,7],[22,9.5],[27,11.5],[31,13],[34,12.5],[37,11],[41,9],[45,6.5],[48,4],[51,1.5],[53,0]],
  [[0,0],[6,1.5],[12,3.5],[18,5.5],[24,7],[30,8],[34,8.5],[38,8],[42,6.5],[46,4.5],[50,2],[53,0]],
  [[0,0],[6,1.5],[14,3],[20,4.5],[26,5.5],[32,6],[37,5.5],[42,4.5],[47,3],[51,1.5],[54,0]],
  [[0,0],[8,1],[16,2],[24,3],[32,3.5],[40,3.2],[46,2.5],[52,1.2],[56,0]],
  [[0,0],[2,2.5],[5,6],[9,10],[13,14],[17,17.5],[21,20.5],[25,23],[29,24],[33,24.5],[36,23],[39,21],[42,18],[45,14],[48,9],[51,4],[53,1],[54,0]],
  [[55,0.8],[65,0.5],[75,0.4],[88,0.5],[89.5,2.5],[91,5],[92,6.5],[93.2,7.9],[94.5,6],[95.5,2],[96.2,0],[100,0]],
  [[0,0],[10,0.5],[25,1],[40,1],[52,0.8],[60,0.3],[100,0]]
];

const curveSets = [erCurves, gnmCurves, wsCurves, baCurves, hrCurves, hrPlusCurves, hcCurves, treeCurves];

const captionLines = [
  [["Fig. 6", true], ["  The response of the eight graph models to the random node selection failure model method.", false]],
  [["Each response is plotted with the y-axis showing the number of components and the x-axis showing the", false]],
  [["% of nodes removed from the graph, and thus the most robust graphs would show a small number of", false]],
  [["components, with any increase shown to the right of plots as x tends away from 0. Plots (", false], ["a", true], [")–(d) show clear", false]],
  [["increase in the number of components to the right of the plots suggesting a robust response, whereas plots", false]],
  [["(", false], ["e", true], [")–(", false], ["h", true], [") show peaks much closer to the left and centre of the plots, suggesting a less robust response", false]]
];

// layout
const width = 955, height = 958;
const boxes = [
  { l: 60, t: 53, r: 318, b: 253, tx: 34, nx: 70, ty: 37.5 },
  { l: 377, t: 54, r: 633, b: 253, tx: 353, nx: 387, ty: 37.5 },
  { l: 685, t: 54, r: 941, b: 252, tx: 668, nx: 700, ty: 37.5 },
  { l: 64, t: 330, r: 318, b: 528, tx: 34, nx: 70, ty: 316 },
  { l: 377, t: 329, r: 633, b: 527, tx: 352, nx: 387, ty: 316 },
  { l: 681, t: 329, r: 937, b: 527, tx: 655, nx: 690, ty: 316 },
  { l: 60, t: 579, r: 317, b: 777, tx: 34, nx: 70, ty: 565 },
  { l: 377, t: 579, r: 634, b: 777, tx: 352, nx: 387, ty: 565 }
];
const captionTop = 809, captionStep = 21.5, captionX = 14;
const captionEnds = [808, 897, 814, 938, 941, 822];

const svg = d3.select("#chart").append("svg")
  .attr("width", width)
  .attr("height", height);

// outer frame (open on the right)
svg.append("path")
  .attr("d", "M955,9 H17 Q8,9 8,18 V949 Q8,958 17,958")
  .attr("fill", "none")
  .attr("stroke", "#555")
  .attr("stroke-width", 1.4);

const defs = svg.append("defs");

boxes.forEach((bx, i) => {
  const x = d3.scaleLinear().domain([0, 100]).range([bx.l, bx.r]);
  const y = d3.scaleLinear().domain([0, yMaxValues[i]]).range([bx.b, bx.t]);
  const g = svg.append("g");

  // title
  g.append("text").attr("class", "title").attr("x", bx.tx).attr("y", bx.ty).text(panelLetters[i]);
  g.append("text").attr("class", "title").attr("x", bx.nx).attr("y", bx.ty).text(panelNames[i]);

  defs.append("clipPath").attr("id", "clip" + i)
    .append("rect")
    .attr("x", bx.l).attr("y", bx.t - 2)
    .attr("width", bx.r - bx.l).attr("height", bx.b - bx.t + 2);

  const line = d3.line()
    .x(d => x(d[0]))
    .y(d => y(d[1]));

  g.append("g")
    .attr("clip-path", `url(#clip${i})`)
    .selectAll("path")
    .data(curveSets[i])
    .join("path")
    .attr("d", line)
    .attr("fill", "none")
    .attr("stroke", "#000")
    .attr("stroke-width", 2.4)
    .attr("stroke-linejoin", "round");

  // frame
  g.append("rect")
    .attr("x", bx.l).attr("y", bx.t)
    .attr("width", bx.r - bx.l).attr("height", bx.b - bx.t)
    .attr("fill", "none")
    .attr("stroke", "#8c8c8c")
    .attr("stroke-width", 1.2);

  // y ticks: only 0 and max
  g.append("g")
    .attr("transform", `translate(${bx.l},0)`)
    .call(d3.axisLeft(y).tickValues([0, yMaxValues[i]]).tickSize(0).tickPadding(3))
    .call(a => a.select(".domain").remove());

  g.append("text")
    .attr("class", "axis-label")
    .attr("transform", `translate(${bx.l - 18},${(bx.t + bx.b) / 2}) rotate(-90)`)
    .attr("text-anchor", "middle")
    .text("number of components");

  g.append("text")
    .attr("class", "axis-label")
    .attr("x", (bx.l + bx.r) / 2)
    .attr("y", bx.b + 10)
    .attr("text-anchor", "middle")
    .text("epochs/iterations");
});

// caption
captionLines.forEach((parts, i) => {
  const t = svg.append("text")
    .attr("class", "caption")
    .attr("x", captionX)
    .attr("y", captionTop + i * captionStep)
    .attr("textLength", captionEnds[i] - captionX)
    .attr("lengthAdjust", "spacingAndGlyphs")
    .attr("xml:space", "preserve");
  parts.forEach(p => {
    t.append("tspan")
      .attr("font-weight", p[1] ? "bold" : null)
      .text(p[0]);
  });
});
</script>
</body>
</html>
